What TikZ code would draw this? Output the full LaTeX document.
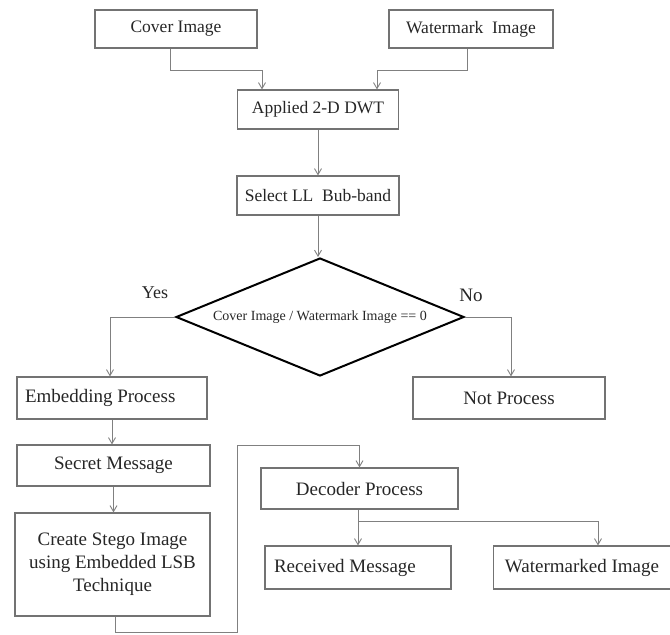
\documentclass[tikz,border=0pt]{standalone}
\usepackage{fontspec}
\setmainfont{Liberation Serif}
\usetikzlibrary{shapes.geometric,arrows.meta}
\tikzset{
  box/.style={draw=black!55,line width=1.1pt,text=black!85,inner sep=2pt,
    font=\fontsize{19}{23}\selectfont},
  topbox/.style={box,font=\fontsize{17.5}{21}\selectfont},
  arr/.style={draw=black!50,line width=0.9pt,-{Straight Barb[length=6pt,width=7pt]}}
}
\begin{document}
\begin{tikzpicture}[x=1pt,y=-1pt]
			\useasboundingbox (0,0) rectangle (670,635);
			\node[topbox,minimum width=162,minimum height=38] (cover) at (176,29) {Cover Image};
			\node[topbox,minimum width=164,minimum height=38] (wm) at (471,29) {Watermark\ \ Image};
			\node[topbox,minimum width=161,minimum height=39] (dwt) at (318,109.5) {Applied 2-D DWT};
			\node[topbox,minimum width=162,minimum height=39] (select) at (318,195.5) {Select LL\ \ Bub-band};
			\node[diamond,draw=black,line width=2pt,aspect=2.44,inner sep=1pt,minimum width=288,minimum height=118,
				text=black!85,font=\fontsize{14}{16}\selectfont] (dec) at (320,317) {Cover Image / Watermark Image == 0};
			\node[font=\fontsize{18}{20}\selectfont,text=black!85] (yes) at (155,293) {Yes};
			\node[font=\fontsize{19}{20}\selectfont,text=black!85] (no) at (471,295) {No};
			\node[box,minimum width=190,minimum height=42,text width=174,inner xsep=8pt,align=flush left] (embed) at (112,398) {Embedding Process};
			\node[box,minimum width=192,minimum height=42] (notp) at (509,398) {Not Process};
			\node[box,minimum width=193,minimum height=41] (secret) at (113.5,465.5) {Secret Message};
			\node[box,minimum width=195,minimum height=103,align=center] (stego) at (112.5,564.5) {Create Stego Image\\using Embedded LSB\\Technique};
			\node[box,minimum width=197,minimum height=41] (decoder) at (359.5,488.5) {Decoder Process};
			\node[box,minimum width=186,minimum height=43,text width=168,inner xsep=9pt,align=flush left] (received) at (358,567.5) {Received Message};
			\node[box,minimum width=177,minimum height=43] (wmimg) at (582,567.5) {Watermarked Image};
			\coordinate (turn) at (237,445);
			% connectors
			\draw[arr] ([xshift=-6pt]cover.south) -- ++(0,22) -| ([xshift=-56pt]dwt.north);
			\draw[arr] ([xshift=-4pt]wm.south) -- ++(0,22) -| ([xshift=59pt]dwt.north);
			\draw[arr] (dwt) -- (select);
			\draw[arr] (select.south) -- (select.south |- dec.north);
			\draw[arr] (dec.west) -| ([xshift=-2pt]embed.north);
			\draw[arr] (dec.east) -| ([xshift=2pt]notp.north);
			\draw[arr] (embed) -- (embed |- secret.north);
			\draw[arr] (secret) -- (secret |- stego.north);
			\draw[arr] ([xshift=2.5pt]stego.south) -- ++(0,16) -| (turn) -| (decoder.north);
			\draw[arr] (decoder.south -| received.north) -- (received.north);
			\draw[arr] (decoder.south -| received.north) ++(0,12) -| ([xshift=16pt]wmimg.north);
		\end{tikzpicture}
\end{document}
